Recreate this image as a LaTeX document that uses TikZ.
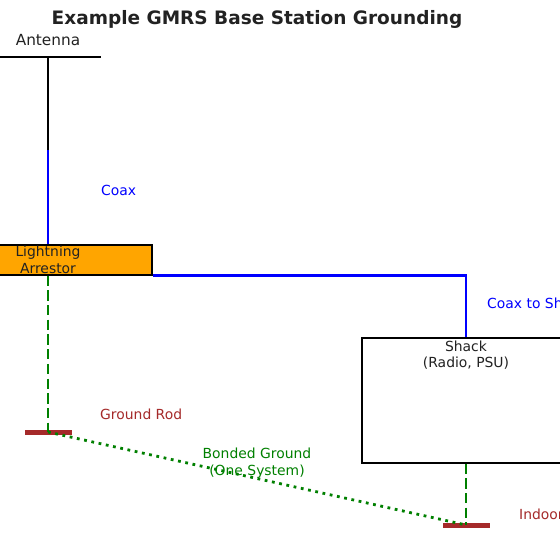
\documentclass[tikz,border=0pt]{standalone}
\usepackage{fontspec}
\setmainfont{DejaVu Sans}
\definecolor{cblue}{HTML}{0000FF}
\definecolor{cgreen}{HTML}{008000}
\definecolor{cbrown}{HTML}{A52A2A}
\definecolor{corange}{HTML}{FFA500}
\definecolor{ctext}{HTML}{222222}
\tikzset{
  lbl/.style={font=\fontsize{13.9}{16.5}\selectfont, inner sep=0pt, align=center},
  boxnode/.style={draw=black, line width=1.2pt, inner sep=0pt},
  rodbar/.style={fill=cbrown, draw=none, minimum width=47pt, minimum height=5pt, inner sep=0pt},
  wireblack/.style={draw=black, line width=2.8pt},
  wireblue/.style={draw=cblue, line width=2.8pt},
  gnddash/.style={draw=cgreen, line width=2.8pt, dash pattern=on 10.3pt off 4.4pt},
  gnddot/.style={draw=cgreen, line width=2.8pt, dash pattern=on 2.8pt off 4.6pt},
}
\begin{document}
\begin{tikzpicture}[x=1pt,y=-1pt]
\useasboundingbox (0,0) rectangle (560,560);
\clip (0,0) rectangle (560,560);
\fill[white] (0,0) rectangle (560,560);
% title
\node[font=\bfseries\fontsize{18.5}{22}\selectfont, text=ctext, inner sep=0pt] (title) at (257,19) {Example GMRS Base Station Grounding};
% antenna
\coordinate (antL) at (0,57);
\coordinate (antR) at (101,57);
\coordinate (antB) at (48,57);
\coordinate (coaxmid) at (48,150);
\node[font=\fontsize{15.3}{18}\selectfont, text=ctext, inner sep=0pt] (anttxt) at (48,40) {Antenna};
% boxes
\node[boxnode, fill=corange, minimum width=208pt, minimum height=30pt, lbl, text=ctext] (arr) at (48,260) {Lightning\\Arrestor};
\node[boxnode, fill=white, minimum width=208pt, minimum height=125pt,
  label={[lbl, text=ctext, anchor=north, yshift=-3pt]north:{Shack\\(Radio, PSU)}}] (shack) at (466,400.5) {};
% rods
\node[rodbar] (rod1) at (48,432) {};
\node[rodbar] (rod2) at (466,525) {};
% wires
\draw[wireblack] (antL) -- (antR);
\draw[wireblack] (antB) -- (coaxmid);
\draw[wireblue] (coaxmid) -- (arr.north);
\draw[wireblue] (arr.south east) -| (shack.north);
\draw[gnddash] (arr.south) -- (rod1.center);
\draw[gnddash] (shack.south) -- (rod2.center);
\draw[gnddot] (rod1.center) -- (rod2.center);
% labels
\node[lbl, text=cblue, anchor=west] (coaxlbl) at (101,190) {Coax};
\node[lbl, text=cblue, anchor=west] (coaxshk) at (487,303) {Coax to Shack};
\node[lbl, text=cbrown, anchor=west] (rodlbl) at (100,414) {Ground Rod};
\node[lbl, text=cbrown, anchor=west] (indoor) at (519,514) {Indoor Ground};
\node[lbl, text=cgreen] (bond) at (257,463) {Bonded Ground\\(One System)};
\end{tikzpicture}
\end{document}
